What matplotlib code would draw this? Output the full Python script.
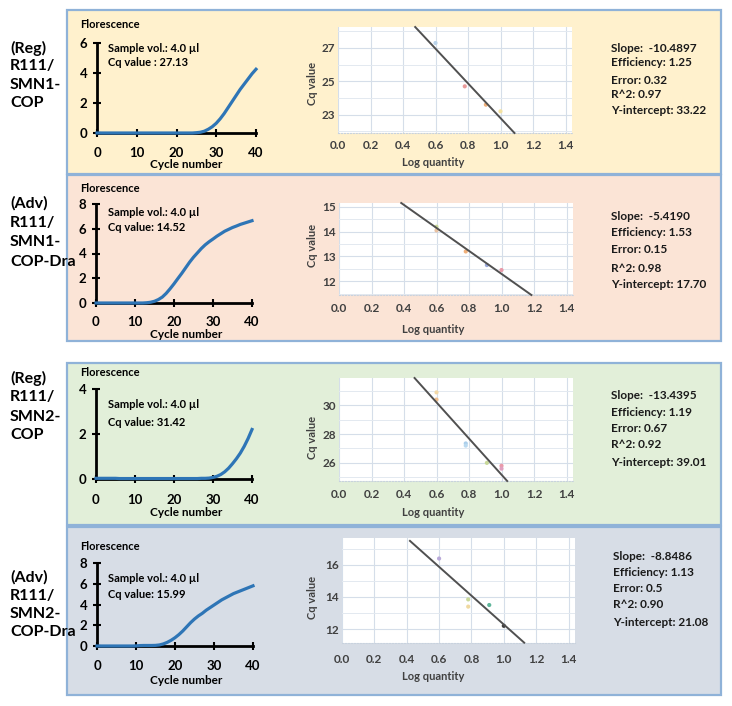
import numpy as np
import matplotlib.pyplot as plt
from matplotlib.patches import Rectangle
from matplotlib.ticker import MultipleLocator, FixedLocator

plt.rcParams['font.family'] = ['Lato', 'DejaVu Sans']
plt.rcParams['font.weight'] = 'bold'

W, H = 732, 706

# ---- data ----
cycles = list(range(41))
amp_reg_smn1 = [0.0, 0.0, 0.0, 0.0, 0.0, 0.0, 0.0, 0.0, 0.0, 0.0,
                0.0, 0.0, 0.0, 0.0, 0.0, 0.0, 0.0, 0.0, 0.0, 0.0,
                0.0, 0.0, 0.0, 0.0, 0.0, 0.02, 0.05, 0.12, 0.25, 0.42,
                0.65, 0.95, 1.3, 1.7, 2.1, 2.5, 2.9, 3.25, 3.6, 3.95, 4.25]
amp_adv_smn1 = [0.0, 0.0, 0.0, 0.0, 0.0, 0.0, 0.0, 0.0, 0.0, 0.0,
                0.0, 0.0, 0.0, 0.02, 0.06, 0.14, 0.28, 0.48, 0.78, 1.15,
                1.55, 1.98, 2.4, 2.85, 3.3, 3.7, 4.05, 4.4, 4.7, 4.95,
                5.17, 5.4, 5.6, 5.8, 5.95, 6.1, 6.22, 6.35, 6.45, 6.55, 6.65]
amp_reg_smn2 = [0.03, 0.03, 0.03, 0.03, 0.03, 0.03, 0.02, 0.02, 0.02, 0.02,
                0.02, 0.02, 0.02, 0.02, 0.02, 0.02, 0.02, 0.02, 0.02, 0.02,
                0.02, 0.02, 0.02, 0.02, 0.02, 0.02, 0.02, 0.03, 0.03, 0.04,
                0.07, 0.12, 0.2, 0.32, 0.48, 0.68, 0.9, 1.15, 1.45, 1.8, 2.2]
amp_adv_smn2 = [0.0, 0.0, 0.0, 0.0, 0.0, 0.0, 0.0, 0.0, 0.0, 0.0,
                0.01, 0.04, 0.05, 0.05, 0.05, 0.06, 0.1, 0.2, 0.35, 0.55,
                0.8, 1.1, 1.45, 1.85, 2.25, 2.6, 2.9, 3.15, 3.45, 3.7,
                3.95, 4.2, 4.45, 4.65, 4.85, 5.05, 5.2, 5.35, 5.5, 5.65, 5.8]

logq_reg_smn1 = [0.60, 0.78, 0.91, 1.00]
cq_reg_smn1 = [27.3, 24.7, 23.6, 23.2]
dot_reg_smn1 = ['#b9d3ea', '#e79a9a', '#f0b07a', '#f3e2a2']
logq_adv_smn1 = [0.60, 0.60, 0.78, 0.91, 1.00]
cq_adv_smn1 = [14.2, 14.05, 13.2, 12.65, 12.45]
dot_adv_smn1 = ['#c9d99a', '#e9c2a2', '#f0b07a', '#9ba9d9', '#e99aa9']
logq_reg_smn2 = [0.60, 0.60, 0.78, 0.78, 0.91, 1.00, 1.00]
cq_reg_smn2 = [30.9, 30.4, 27.35, 27.2, 26.0, 25.8, 25.6]
dot_reg_smn2 = ['#f3d9a8', '#f0c090', '#a9cdea', '#b9d9f0', '#c9d99a', '#e99aa9', '#e0a0c0']
logq_adv_smn2 = [0.60, 0.78, 0.78, 0.91, 1.00]
cq_adv_smn2 = [16.4, 13.85, 13.4, 13.5, 12.2]
dot_adv_smn2 = ['#b9a9d9', '#c9d99a', '#f0d9a0', '#5fb59a', '#404040']

fit_x = [[0.475, 1.086], [0.383, 1.184], [0.465, 1.035], [0.42, 1.126]]
fit_y = [[28.26, 21.9], [15.16, 11.44], [31.9, 24.74], [17.5, 11.15]]
sc_yticks = [[23, 25, 27], [12, 13, 14, 15], [26, 28, 30], [12, 14, 16]]

row_names = [['(Reg)', 'R111/', 'SMN1-', 'COP'],
             ['(Adv)', 'R111/', 'SMN1-', 'COP-Dra'],
             ['(Reg)', 'R111/', 'SMN2-', 'COP'],
             ['(Adv)', 'R111/', 'SMN2-', 'COP-Dra']]
cq_text = ['Cq value : 27.13', 'Cq value: 14.52', 'Cq value: 31.42', 'Cq value: 15.99']
stats = [['Slope:  -10.4897', 'Efficiency: 1.25', 'Error: 0.32', 'R^2: 0.97', 'Y-intercept: 33.22'],
         ['Slope:  -5.4190', 'Efficiency: 1.53', 'Error: 0.15', 'R^2: 0.98', 'Y-intercept: 17.70'],
         ['Slope:  -13.4395', 'Efficiency: 1.19', 'Error: 0.67', 'R^2: 0.92', 'Y-intercept: 39.01'],
         ['Slope:  -8.8486', 'Efficiency: 1.13', 'Error: 0.5', 'R^2: 0.90', 'Y-intercept: 21.08']]

amps = [amp_reg_smn1, amp_adv_smn1, amp_reg_smn2, amp_adv_smn2]
logqs = [logq_reg_smn1, logq_adv_smn1, logq_reg_smn2, logq_adv_smn2]
cqs = [cq_reg_smn1, cq_adv_smn1, cq_reg_smn2, cq_adv_smn2]
dots = [dot_reg_smn1, dot_adv_smn1, dot_reg_smn2, dot_adv_smn2]

# ---- layout (pixels from top-left) ----
panel_box = [(67, 10, 721, 174), (67, 175, 721, 341), (67, 363, 721, 525), (67, 527, 721, 695)]
panel_col = ['#fff1cd', '#fbe4d6', '#e2efd9', '#d7dde6']
name_y = [[48, 66, 85, 103], [203, 223, 242, 262], [378, 397, 417, 435], [577, 596, 614, 632]]
amp_box = [(97, 43, 256, 133), (96, 204, 252, 303), (96, 389, 252, 479), (97, 563, 253, 646)]
amp_ymax = [6, 8, 4, 8]
amp_xpad = [7, 6, 8, 7]
flor_y = [25, 188, 373, 546]
cycle_y = [165, 334, 513, 680]
sample_y = [48, 212, 404, 578]
cq_y = [63, 227, 422, 594]
sc_box = [(338, 27, 572, 133), (339, 203, 573, 295), (339, 378, 573, 481), (342, 538, 575, 643)]
sc_ylim = [(21.9, 28.26), (11.44, 15.16), (24.74, 31.9), (11.13, 17.68)]
sc_ystep = [2, 1, 2, 2]
sc_xpad = [5, 6, 6, 8]
cqlab_y = [83, 245, 437, 597]
logq_y = [162, 330, 513, 677]
stat_y = [[48, 63, 80, 95, 110], [217, 233, 250, 268, 284],
          [395, 412, 428, 445, 462], [557, 572, 589, 605, 622]]
stat_x = [611, 611, 611, 613]

BLUE = '#2e75b6'
GREY = '#404040'

fig = plt.figure(figsize=(W / 100, H / 100), dpi=100)


def box(l, t, r, b):
    return [l / W, 1 - b / H, (r - l) / W, (b - t) / H]


def txt(x, y, s, **kw):
    kw.setdefault('va', 'center')
    fig.text(x / W, 1 - y / H, s, **kw)


for i in range(4):
    l, t, r, b = panel_box[i]
    fig.add_artist(Rectangle((l / W, 1 - b / H), (r - l) / W, (b - t) / H,
                             transform=fig.transFigure, fc=panel_col[i],
                             ec='#8fb2d8', lw=1.6, zorder=-5))

    for s, y in zip(row_names[i], name_y[i]):
        txt(10, y, s, fontsize=11.5, ha='left')

    # amplification curve
    ax = fig.add_axes(box(*amp_box[i]))
    ax.set_facecolor('none')
    ax.plot(cycles, amps[i], color=BLUE, lw=2.3, clip_on=False, zorder=4)
    ax.set_xlim(0, 40)
    ax.set_ylim(0, amp_ymax[i])
    ax.set_xticks(range(0, 41, 10))
    ax.set_yticks(range(0, amp_ymax[i] + 1, 2))
    for sp in ['top', 'right']:
        ax.spines[sp].set_visible(False)
    for sp in ['left', 'bottom']:
        ax.spines[sp].set_linewidth(2)
        ax.spines[sp].set_color('black')
    ax.tick_params(direction='inout', length=6, width=1.5, labelsize=9.5)
    ax.tick_params(axis='x', pad=amp_xpad[i])
    ax.tick_params(axis='y', pad=4)
    txt(80, flor_y[i], 'Florescence', fontsize=8, ha='left')
    txt(186, cycle_y[i], 'Cycle number', fontsize=8.5, ha='center')
    txt(108, sample_y[i], 'Sample vol.: 4.0 \u00b5l', fontsize=8, ha='left')
    txt(108, cq_y[i], cq_text[i], fontsize=8, ha='left')

    # standard curve
    ax2 = fig.add_axes(box(*sc_box[i]))
    ax2.set_facecolor('white')
    ax2.set_xlim(0, 1.44)
    ax2.set_ylim(*sc_ylim[i])
    ax2.xaxis.set_major_locator(MultipleLocator(0.2))
    ax2.yaxis.set_major_locator(FixedLocator(sc_yticks[i]))
    ax2.yaxis.set_minor_locator(MultipleLocator(sc_ystep[i] / 2))
    ax2.grid(True, which='major', color='#d5dee9', lw=0.8)
    ax2.grid(True, which='minor', axis='y', color='#e3e9f0', lw=0.7)
    ax2.set_axisbelow(True)
    for sp in ax2.spines.values():
        sp.set_visible(False)
    ax2.spines['bottom'].set_visible(True)
    ax2.spines['bottom'].set_color('#c8d2de')
    ax2.spines['bottom'].set_linestyle(':')
    ax2.tick_params(which='both', length=0, labelsize=8.5, labelcolor=GREY)
    ax2.tick_params(axis='x', pad=sc_xpad[i])
    ax2.tick_params(axis='y', pad=2)
    ax2.xaxis.set_major_formatter(plt.FuncFormatter(lambda v, p: f'{v:.1f}'))
    ax2.scatter(logqs[i], cqs[i], s=9, c=dots[i], zorder=3, linewidths=0)
    ax2.plot(fit_x[i], fit_y[i], color='#505050', lw=1.4, zorder=4, clip_on=False)
    txt(312, cqlab_y[i], 'Cq value', fontsize=8, rotation=90, ha='center', color=GREY)
    txt(433, logq_y[i], 'Log quantity', fontsize=8, ha='center', color=GREY)

    for s, y in zip(stats[i], stat_y[i]):
        txt(stat_x[i], y, s, fontsize=8.5, ha='left', color='#1a1a1a')

fig.savefig('out.png', dpi=100)
